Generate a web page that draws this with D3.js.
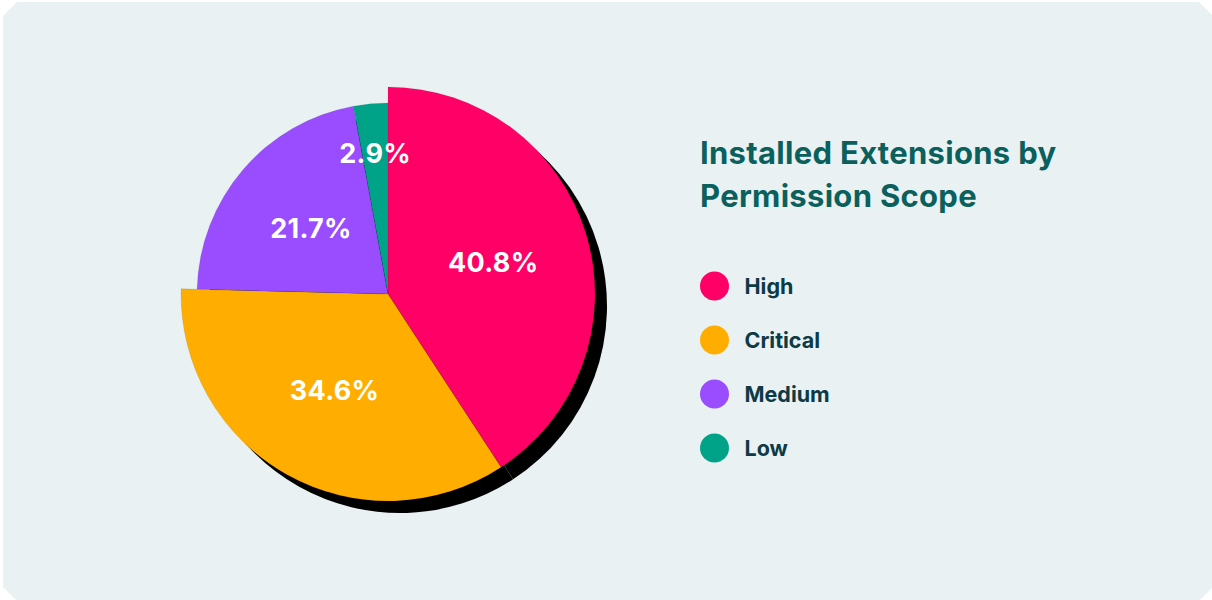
<!DOCTYPE html>
<html>
<head>
<meta charset="utf-8">
<script src="https://cdn.jsdelivr.net/npm/d3@7"></script>
<style>
  html, body { margin: 0; padding: 0; background: #ffffff; }
  svg { display: block; }
</style>
</head>
<body>
<svg id="chart" width="1212" height="600"></svg>
<script>
// Installed extensions grouped by permission scope (share of total, %)
const categories = ["High", "Critical", "Medium", "Low"];
const shares = [40.8, 34.6, 21.7, 2.9];
const titleLines = ["Installed Extensions by", "Permission Scope"];

const palette = ["#ff0066", "#ffae00", "#994dff", "#00a388"];
const emphasized = new Set(["High", "Critical"]);

const svg = d3.select("#chart");

// Card background with clipped corners
const c = 14, x0 = 3, y0 = 2, x1 = 1213, y1 = 601;
svg.append("path")
  .attr("d", `M${x0 + c},${y0} L${x1 - c},${y0} L${x1},${y0 + c} L${x1},${y1 - c} L${x1 - c},${y1} L${x0 + c},${y1} L${x0},${y1 - c} L${x0},${y0 + c} Z`)
  .attr("fill", "#e9f1f3");

// Pie
const cx = 388, cy = 294;
const rBig = 207, rSmall = 191;
const color = d3.scaleOrdinal().domain(categories).range(palette);
const radius = d => emphasized.has(categories[d.index]) ? rBig : rSmall;

const pie = d3.pie().sort(null).value(d => d);
const arcs = pie(shares);
const arc = d3.arc().innerRadius(0).outerRadius(d => radius(d));

const g = svg.append("g").attr("transform", `translate(${cx},${cy})`);

// Hard offset shadow
g.append("g").attr("transform", "translate(12,12)")
  .selectAll("path").data(arcs).join("path")
  .attr("d", arc)
  .attr("fill", "#000");

g.append("g").selectAll("path").data(arcs).join("path")
  .attr("d", arc)
  .attr("fill", d => color(categories[d.index]))
  .attr("stroke", "rgba(30,30,60,0.2)")
  .attr("stroke-width", 0.5);

// Percentage labels
const labelPos = d => {
  const R = radius(d);
  const k = (d.endAngle - d.startAngle) < 0.35 ? 0.74 : 0.53;
  return d3.arc().innerRadius(R * k).outerRadius(R * k).centroid(d);
};
g.append("g").selectAll("text").data(arcs).join("text")
  .attr("transform", d => `translate(${labelPos(d)})`)
  .attr("text-anchor", "middle")
  .attr("dy", "0.36em")
  .attr("fill", "#ffffff")
  .style("font-family", "Inter, 'DejaVu Sans', sans-serif")
  .style("font-weight", 700)
  .style("font-size", "27px")
  .style("letter-spacing", "0.3px")
  .text(d => d.data.toFixed(1) + "%");

// Title
svg.append("g").selectAll("text").data(titleLines).join("text")
  .attr("x", 700)
  .attr("y", (d, i) => 164 + i * 43)
  .attr("fill", "#0a605d")
  .style("font-family", "Inter, sans-serif")
  .style("font-weight", 700)
  .style("font-size", "31px")
  .style("letter-spacing", "0.3px")
  .text(d => d);

// Legend
const legend = svg.append("g").attr("transform", "translate(714.5,286)");
const rows = legend.selectAll("g").data(categories).join("g")
  .attr("transform", (d, i) => `translate(0,${i * 54})`);
rows.append("circle").attr("r", 14.5).attr("fill", d => color(d));
rows.append("text")
  .attr("x", 30)
  .attr("dy", "0.36em")
  .attr("fill", "#0d3a44")
  .style("font-family", "Inter, sans-serif")
  .style("font-weight", 700)
  .style("font-size", "21.5px")
  .text(d => d);
</script>
</body>
</html>
